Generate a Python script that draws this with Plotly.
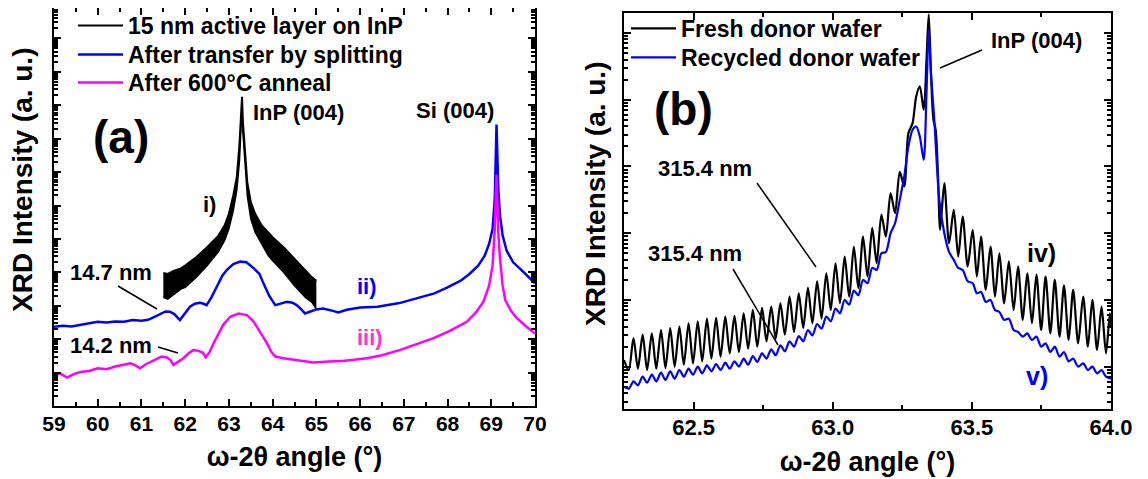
import numpy as np
import plotly.graph_objects as go

# The page body adds an 8 px margin, so the figure is drawn 8 px smaller and all
# reference pixel positions below are shifted by that offset.
REF_W, REF_H = 1148, 479
OFF = 8
W, H = REF_W - OFF, REF_H - OFF
FONT = "Liberation Sans, Arial, sans-serif"

# ---------------- Panel (a) data (log10 of intensity, a.u.) ----------------
a_black_x = [61.5, 61.6, 61.75, 61.9, 62.0, 62.25, 62.5, 62.75, 62.9, 63.0, 63.1, 63.18, 63.24, 63.28,
             63.3, 63.32, 63.36, 63.42, 63.5, 63.6, 63.75, 63.9, 64.0, 64.25, 64.5, 64.75, 64.9, 65.0]
a_black_top_log = [3.98, 3.95, 4.05, 4.12, 4.2, 4.45, 4.75, 5.08, 5.4, 5.75, 6.3, 6.85, 7.8, 8.6,
                   9.25, 8.5, 7.7, 6.7, 6.1, 5.75, 5.4, 5.2, 5.05, 4.75, 4.4, 4.05, 3.85, 3.75]
a_black_bottom_log = [3.25, 3.2, 3.35, 3.5, 3.55, 3.85, 4.2, 4.6, 4.95, 5.3, 5.85, 6.45, 7.3, 8.2,
                      8.95, 8.2, 7.3, 6.3, 5.6, 5.2, 4.85, 4.5, 4.35, 4.0, 3.6, 3.25, 3.1, 2.9]

a_blue_x = [59.0, 59.2, 59.4, 59.6, 59.8, 60.0, 60.2, 60.4, 60.6, 60.8, 61.0, 61.15, 61.3, 61.45, 61.55,
            61.65, 61.75, 61.88, 62.0, 62.11, 62.22, 62.34, 62.42, 62.49, 62.6, 62.72, 62.85, 62.95, 63.1,
            63.26, 63.4, 63.57, 63.7, 63.79, 63.92, 64.06, 64.2, 64.33, 64.45, 64.55, 64.65, 64.74, 64.85,
            65.0, 65.15, 65.28, 65.4, 65.5, 65.7, 66.0, 66.4, 66.9, 67.4, 67.7, 68.0, 68.3, 68.5, 68.7,
            68.85, 68.95, 69.03, 69.08, 69.12, 69.16, 69.2, 69.26, 69.35, 69.5, 69.65, 69.8, 70.0]
a_blue_log = [2.37, 2.4, 2.38, 2.42, 2.48, 2.52, 2.5, 2.53, 2.52, 2.57, 2.55, 2.58, 2.67, 2.78, 2.83,
              2.82, 2.75, 2.57, 2.78, 2.97, 3.06, 3.09, 3.06, 3.02, 3.25, 3.57, 3.9, 4.07, 4.25,
              4.32, 4.3, 4.12, 3.95, 3.67, 3.3, 3.02, 3.07, 3.12, 3.09, 3.02, 2.9, 2.77, 2.82,
              2.89, 2.92, 2.89, 2.84, 2.8, 2.88, 2.95, 2.97, 3.08, 3.25, 3.37, 3.55, 3.75, 3.95, 4.2,
              4.5, 4.85, 5.3, 6.2, 8.42, 6.5, 5.7, 5.1, 4.65, 4.3, 4.12, 3.93, 3.67]

a_mag_x = [59.0, 59.15, 59.3, 59.45, 59.6, 59.8, 60.0, 60.2, 60.4, 60.6, 60.75, 60.85, 60.97, 61.1, 61.25,
           61.46, 61.58, 61.66, 61.73, 61.85, 61.96, 62.08, 62.19, 62.3, 62.4, 62.47, 62.56, 62.65, 62.76,
           62.87, 63.03, 63.22, 63.41, 63.55, 63.64, 63.76, 63.87, 63.97, 64.06, 64.25, 64.55, 64.93,
           65.28, 65.6, 66.16, 66.5, 66.92, 67.3, 67.68, 68.05, 68.44, 68.65, 68.82, 68.95, 69.03, 69.08,
           69.12, 69.16, 69.2, 69.26, 69.32, 69.45, 69.59, 69.8, 70.0]
a_mag_log = [0.93, 0.97, 0.85, 0.95, 1.02, 1.05, 1.13, 1.1, 1.18, 1.23, 1.28, 1.22, 1.13, 1.25, 1.35,
             1.48, 1.45, 1.38, 1.23, 1.33, 1.43, 1.58, 1.68, 1.65, 1.6, 1.46, 1.62, 1.88, 2.15,
             2.43, 2.67, 2.77, 2.72, 2.55, 2.37, 2.12, 1.88, 1.62, 1.48, 1.43, 1.38, 1.3,
             1.33, 1.35, 1.43, 1.52, 1.68, 1.85, 2.03, 2.25, 2.52, 2.8, 3.12, 3.6, 4.2, 5.3,
             6.92, 5.2, 4.4, 3.6, 3.17, 2.85, 2.62, 2.38, 2.17]

# ---------------- Panel (b) data ----------------
b_black_x = [62.25, 62.267,
             62.284, 62.300, 62.317, 62.333, 62.350, 62.366, 62.383, 62.399, 62.416, 62.432,
             62.449, 62.465, 62.482, 62.498, 62.515, 62.531, 62.548, 62.564, 62.581, 62.597,
             62.614, 62.630, 62.647, 62.663, 62.680, 62.696, 62.713, 62.729, 62.746, 62.762,
             62.779, 62.795, 62.812, 62.828, 62.845, 62.861, 62.878, 62.894, 62.911, 62.927,
             62.944, 62.960, 62.977, 62.993, 63.010, 63.026, 63.043, 63.059, 63.076, 63.092,
             63.109, 63.125, 63.142, 63.158, 63.175, 63.191, 63.208, 63.224, 63.241, 63.257,
             63.272, 63.287, 63.300, 63.313, 63.327, 63.337, 63.345, 63.353, 63.362, 63.370, 63.378, 63.386,
             63.401, 63.418, 63.435, 63.451, 63.467, 63.485, 63.503, 63.518, 63.533, 63.550,
             63.567, 63.583, 63.599, 63.616, 63.633, 63.650, 63.666, 63.683, 63.699, 63.716,
             63.732, 63.749, 63.765, 63.782, 63.798, 63.815, 63.831, 63.848, 63.864, 63.882,
             63.900, 63.917, 63.933, 63.950, 63.966, 63.982, 63.996, 64.0]
b_black_log = [0.1, -0.05,
               0.43, -0.03, 0.48, -0.05, 0.5, -0.03, 0.55, -0.02, 0.58, 0.0,
               0.6, 0.03, 0.65, 0.05, 0.68, 0.08, 0.72, 0.12, 0.73, 0.15,
               0.75, 0.2, 0.76, 0.22, 0.8, 0.27, 0.85, 0.3, 0.88, 0.38,
               0.9, 0.42, 0.95, 0.48, 1.05, 0.52, 1.1, 0.58, 1.18, 0.65,
               1.28, 0.72, 1.4, 0.85, 1.55, 0.95, 1.65, 1.05, 1.8, 1.18,
               1.95, 1.35, 2.08, 1.55, 2.28, 1.95, 2.6, 2.3, 2.92, 2.7,
               3.5, 3.65, 4.05, 4.2, 3.85, 4.6, 5.28, 4.4, 3.7, 3.55, 2.9, 2.05,
               2.75, 1.85, 2.35, 1.65, 2.25, 1.5, 2.05, 1.35, 1.95, 1.15,
               1.8, 1.05, 1.7, 0.95, 1.58, 0.85, 1.5, 0.7, 1.4, 0.65,
               1.38, 0.55, 1.35, 0.5, 1.3, 0.45, 1.22, 0.4, 1.15, 0.35,
               1.05, 0.3, 1.0, 0.25, 0.9, 0.2, 0.8, 0.6]

b_blue_x = [62.25, 62.267,
            62.284, 62.300, 62.317, 62.333, 62.350, 62.366, 62.383, 62.399, 62.416, 62.432,
            62.449, 62.465, 62.482, 62.498, 62.515, 62.531, 62.548, 62.564, 62.581, 62.597,
            62.614, 62.630, 62.647, 62.663, 62.680, 62.696, 62.713, 62.729, 62.746, 62.762,
            62.779, 62.795, 62.812, 62.828, 62.845, 62.861, 62.878, 62.894, 62.911, 62.927,
            62.944, 62.960, 62.977, 62.993, 63.010, 63.026, 63.043, 63.059, 63.076, 63.092,
            63.109, 63.125, 63.142, 63.158, 63.175, 63.191, 63.208, 63.224, 63.241, 63.257,
            63.272, 63.287, 63.300, 63.313, 63.327, 63.337, 63.345, 63.353, 63.365, 63.383,
            63.401, 63.418, 63.435, 63.451, 63.467, 63.485, 63.503, 63.518, 63.533, 63.550,
            63.567, 63.583, 63.599, 63.616, 63.633, 63.650, 63.666, 63.683, 63.699, 63.716,
            63.732, 63.749, 63.765, 63.782, 63.798, 63.815, 63.831, 63.848, 63.864, 63.882,
            63.900, 63.917, 63.933, 63.950, 63.966, 63.982, 64.0]
b_blue_log = [-0.3, -0.33,
              -0.22, -0.28, -0.15, -0.24, -0.12, -0.22, -0.09, -0.2, -0.07, -0.18,
              -0.05, -0.15, -0.03, -0.12, 0.0, -0.1, 0.02, -0.07, 0.04, -0.05,
              0.06, -0.03, 0.08, 0.0, 0.12, 0.03, 0.16, 0.07, 0.2, 0.12,
              0.26, 0.17, 0.32, 0.23, 0.38, 0.3, 0.46, 0.38, 0.55, 0.47,
              0.64, 0.57, 0.75, 0.68, 0.87, 0.8, 1.0, 0.93, 1.14, 1.07,
              1.3, 1.25, 1.48, 1.45, 1.7, 1.72, 2.0, 2.15, 2.5, 2.85,
              3.3, 3.55, 3.6, 3.45, 3.1, 4.1, 5.05, 4.4, 3.7, 2.5,
              2.0, 1.72, 1.6, 1.48, 1.45, 1.28, 1.25, 1.1, 1.12, 0.97,
              1.0, 0.85, 0.82, 0.7, 0.72, 0.55, 0.52, 0.45, 0.5, 0.4,
              0.45, 0.3, 0.35, 0.22, 0.3, 0.15, 0.22, 0.08, 0.12, 0.0,
              0.05, -0.05, 0.0, -0.1, -0.05, -0.15, -0.18]


def px(x):
    """reference pixel x -> paper fraction"""
    return (x - OFF) / W


def py(y):
    """reference pixel y -> paper fraction"""
    return 1 - (y - OFF) / H


# panel (a): 12 decades over 401 px in the reference; its top edge (y=5) lies above
# the drawable area, so the axis starts at y=8 with the same decade scale
A_DEC = (406 - 5) / 12.0
a_top_px = max(5, OFF)
a_range_top = (406 - a_top_px) / A_DEC

fig = go.Figure()

# Panel (a)
fig.add_trace(go.Scatter(x=a_black_x, y=10 ** np.array(a_black_top_log), mode="lines",
                         line=dict(color="black", width=2), name="15 nm active layer on InP",
                         legend="legend", xaxis="x", yaxis="y"))
fig.add_trace(go.Scatter(x=a_black_x, y=10 ** np.array(a_black_bottom_log), mode="lines",
                         line=dict(color="black", width=1.5), fill="tonexty", fillcolor="black",
                         showlegend=False, xaxis="x", yaxis="y"))
fig.add_trace(go.Scatter(x=a_blue_x, y=10 ** np.array(a_blue_log), mode="lines",
                         line=dict(color="#0000ff", width=2.5), name="After transfer by splitting",
                         legend="legend2", xaxis="x", yaxis="y"))
fig.add_trace(go.Scatter(x=a_mag_x, y=10 ** np.array(a_mag_log), mode="lines",
                         line=dict(color="#ff00ff", width=2.5), name="After 600°C anneal",
                         legend="legend3", xaxis="x", yaxis="y"))

# Panel (b)
fig.add_trace(go.Scatter(x=b_black_x, y=10 ** np.array(b_black_log), mode="lines",
                         line=dict(color="black", width=2.2, shape="spline", smoothing=0.8),
                         name="Fresh donor wafer", legend="legend4", xaxis="x2", yaxis="y2"))
fig.add_trace(go.Scatter(x=b_blue_x, y=10 ** np.array(b_blue_log), mode="lines",
                         line=dict(color="#0000ff", width=2.2, shape="spline", smoothing=0.8),
                         name="Recycled donor wafer", legend="legend5", xaxis="x2", yaxis="y2"))

titlefont = dict(family=FONT, size=27, color="black", weight="bold")

common_x = dict(showline=True, linewidth=2, linecolor="black", mirror="ticks", ticks="inside",
                ticklen=7, tickwidth=2, tickcolor="black", showgrid=False, zeroline=False,
                automargin=False, ticklabelstandoff=-2)
common_y = dict(showline=True, linewidth=2, linecolor="black", mirror="ticks", ticks="inside",
                ticklen=7, tickwidth=2, tickcolor="black", showgrid=False, zeroline=False,
                type="log", dtick=1, showticklabels=False, automargin=False,
                minor=dict(ticks="inside", ticklen=4, tickwidth=1.5, tickcolor="black", dtick="D1",
                           showgrid=False))

legend_font = dict(family=FONT, size=23, color="black", weight="bold")


def legend_at(x_text, y_center):
    return dict(x=px(x_text - 55), y=py(y_center - 21), xanchor="left", yanchor="top",
                bgcolor="rgba(0,0,0,0)", borderwidth=0, font=legend_font, itemwidth=45)


fig.update_layout(
    template="none",
    width=W, height=H,
    margin=dict(l=0, r=0, t=0, b=0, pad=0, autoexpand=False),
    paper_bgcolor="white", plot_bgcolor="white",
    font=dict(family=FONT, color="black"),
    xaxis=dict(domain=[px(54), px(535)], anchor="y", range=[59, 70], dtick=1,
               tickfont=dict(family=FONT, size=21, color="black", weight="bold"),
               minor=dict(ticks="inside", ticklen=4, tickwidth=1.5, tickcolor="black", dtick=0.5),
               title=dict(text="ω-2θ angle (°)", font=titlefont, standoff=13), **common_x),
    yaxis=dict(domain=[py(406), py(a_top_px)], anchor="x", range=[0, a_range_top], **common_y),
    xaxis2=dict(domain=[px(624), px(1111)], anchor="y2", range=[62.25, 64.0], dtick=0.5,
                tickformat=".1f",
                tickfont=dict(family=FONT, size=22, color="black", weight="bold"),
                minor=dict(ticks="inside", ticklen=4, tickwidth=1.5, tickcolor="black", dtick=0.25),
                title=dict(text="ω-2θ angle (°)", font=titlefont, standoff=13), **common_x),
    yaxis2=dict(domain=[py(409), py(13)], anchor="x2", range=[-0.634, 5.30], **common_y),
    legend=legend_at(128, 25),
    legend2=legend_at(128, 54),
    legend3=legend_at(128, 82),
    legend4=legend_at(681, 28),
    legend5=legend_at(681, 57),
    showlegend=True,
)


def ann(text, x, y, size=22, color="black", angle=0):
    fig.add_annotation(text=text, x=px(x), y=py(y), xref="paper", yref="paper",
                       xanchor="center", yanchor="middle", showarrow=False, textangle=angle,
                       font=dict(family=FONT, size=size, color=color, weight="bold"))


# y-axis titles
ann("XRD Intensity (a. u.)", 23, 180, size=28, angle=-90)
ann("XRD Intensity (a. u.)", 595, 194, size=28, angle=-90)

# panel (a) annotations
ann("(a)", 121, 137, size=46)
ann("InP (004)", 298, 113)
ann("Si (004)", 455, 111)
ann("i)", 209, 204)
ann("ii)", 367, 286, color="#0000ff")
ann("iii)", 370, 337, color="#ff33cc")
ann("14.7 nm", 111, 272)
ann("14.2 nm", 111, 345)

# panel (b) annotations
ann("(b)", 683, 109, size=46)
ann("InP (004)", 1036, 41)
ann("315.4 nm", 705, 169)
ann("315.4 nm", 695, 253)
ann("iv)", 1041, 253, size=25)
ann("v)", 1037, 376, size=25, color="#0000ff")


def leader(x0, y0, x1, y1):
    fig.add_shape(type="line", xref="paper", yref="paper", x0=px(x0), y0=py(y0), x1=px(x1), y1=py(y1),
                  line=dict(color="black", width=1.5))


leader(118, 286, 157, 309)
leader(158, 347, 178, 353)
leader(757, 183, 816, 267)
leader(733, 269, 778, 345)
leader(982, 50, 940, 68)

fig.write_html("out.html")
